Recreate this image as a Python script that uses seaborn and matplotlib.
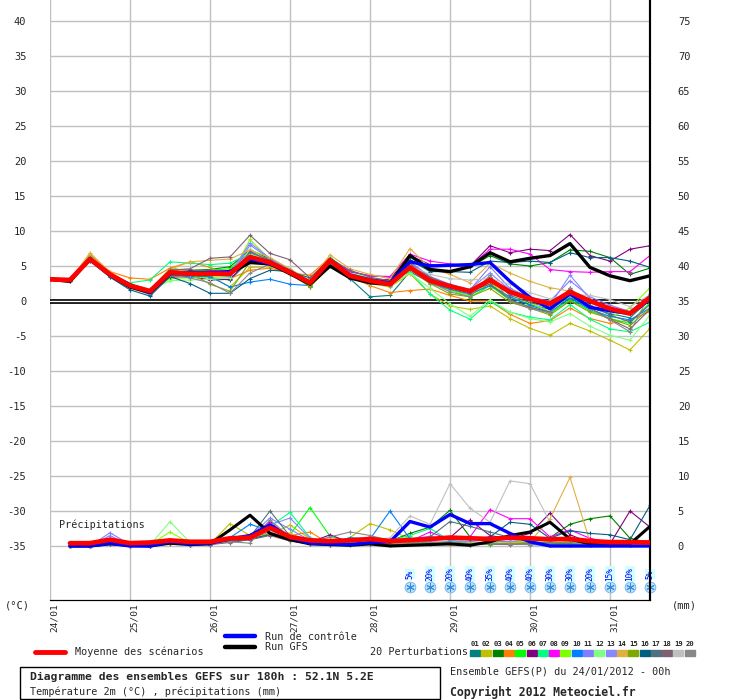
import matplotlib
matplotlib.use("Agg")
import matplotlib.pyplot as plt
import pandas as pd
import seaborn as sns
from matplotlib.patches import Rectangle

# forecast steps (hours from 24/01 00h), precip starts at +6h
hours = list(range(0, 181, 6))
precip_hours = hours[1:]
day_ticks = [0, 24, 48, 72, 96, 120, 144, 168]
day_labels = ["24/01", "25/01", "26/01", "27/01", "28/01", "29/01", "30/01", "31/01"]

member_names = ["01", "02", "03", "04", "05", "06", "07", "08", "09", "10",
                "11", "12", "13", "14", "15", "16", "17", "18", "19", "20"]
member_colors = ["#008080", "#c0c000", "#008000", "#ff8000", "#00ff00", "#800080",
                 "#00ff80", "#ff00ff", "#80ff00", "#0080ff", "#8080ff", "#80ff80",
                 "#8888ff", "#e0b040", "#80a800", "#006080", "#507080", "#806070",
                 "#c0c0c0", "#888888"]

# 2m temperature (°C)
mean_temp = [3.1, 3.0, 6.0, 3.8, 2.2, 1.4, 4.1, 3.9, 3.9, 3.9, 6.3, 5.5, 4.1, 2.6, 5.8, 3.6,
             2.9, 2.4, 4.8, 2.9, 2.1, 1.4, 3.0, 1.3, 0.3, -0.4, 1.3, 0.0, -1.1, -1.8, 0.5]
gfs_temp = [3.1, 2.8, 6.0, 3.7, 2.0, 1.2, 3.9, 3.9, 3.8, 4.0, 5.5, 5.3, 3.9, 2.4, 5.0, 3.3,
            2.6, 2.4, 6.5, 4.5, 4.2, 4.9, 6.9, 5.6, 6.1, 6.5, 8.2, 4.8, 3.6, 2.9, 3.6]
control_temp = [3.1, 3.0, 6.0, 3.8, 2.3, 1.3, 4.0, 4.1, 4.1, 4.2, 6.0, 5.3, 4.2, 2.6, 5.9, 3.7,
                3.0, 2.6, 5.6, 5.0, 5.1, 5.2, 5.5, 2.8, 0.5, -1.1, 1.0, -0.9, -1.4, -1.8, 0.2]
temp_01 = [3.1, 2.9, 5.9, 3.6, 2.0, 1.0, 3.8, 3.5, 3.3, 3.0, 5.8, 5.2, 3.8, 2.3, 5.9, 3.2,
           0.6, 0.8, 4.2, 2.6, 1.6, 0.8, 2.5, 0.4, -0.5, -1.2, 0.5, -1.0, -1.8, -2.4, 0.2]
temp_02 = [3.1, 2.9, 6.2, 3.7, 2.0, 1.2, 3.5, 3.8, 3.6, 2.0, 4.8, 4.9, 4.3, 2.4, 5.2, 3.4,
           2.5, 2.0, 3.9, 1.0, -0.7, -1.2, -0.7, -2.5, -3.9, -4.9, -3.2, -4.3, -5.6, -7.0, -3.9]
temp_03 = [3.1, 3.0, 6.3, 4.0, 2.4, 1.6, 4.6, 4.4, 4.5, 4.9, 7.3, 6.0, 4.4, 2.0, 6.2, 4.2,
           3.6, 3.4, 5.8, 4.4, 4.3, 4.8, 6.5, 5.3, 5.0, 5.5, 7.3, 7.1, 6.2, 3.8, 4.7]
temp_04 = [3.1, 3.0, 6.6, 4.2, 3.3, 3.1, 4.7, 5.6, 4.8, 3.2, 4.4, 4.7, 4.0, 3.7, 6.2, 3.5,
           2.2, 1.2, 1.5, 1.7, 0.8, 0.0, 0.0, -1.9, -3.2, -2.8, -1.0, -2.5, -3.2, -2.7, -1.5]
temp_05 = [3.1, 3.0, 6.1, 3.9, 2.3, 1.5, 4.3, 4.2, 4.4, 4.6, 7.0, 5.7, 4.3, 2.2, 6.1, 3.9,
           3.3, 2.8, 5.2, 3.0, 1.6, 0.5, 2.2, 0.1, -0.8, -1.8, 0.2, -1.4, -2.5, -3.2, -0.2]
temp_06 = [3.1, 3.0, 5.8, 3.6, 2.1, 1.3, 3.4, 3.5, 3.0, 3.1, 6.1, 5.4, 4.0, 2.8, 5.6, 3.7,
           3.0, 3.1, 6.5, 5.2, 5.0, 5.0, 7.9, 6.9, 7.4, 7.2, 9.5, 6.5, 5.7, 7.4, 7.9]
temp_07 = [3.1, 3.0, 6.4, 3.8, 2.6, 3.0, 5.6, 5.4, 5.2, 5.4, 6.8, 5.9, 4.5, 2.9, 6.1, 4.0,
           3.2, 2.8, 4.2, 1.0, -1.3, -2.6, -0.1, -1.6, -2.3, -2.7, -0.5, -2.6, -4.0, -4.4, -3.0]
temp_08 = [3.1, 3.1, 6.1, 4.0, 2.3, 1.5, 4.2, 4.0, 4.3, 4.2, 7.1, 5.8, 4.3, 2.8, 5.9, 4.2,
           3.6, 3.5, 6.7, 5.7, 5.3, 5.0, 7.4, 7.4, 6.7, 4.5, 4.2, 4.1, 4.2, 4.2, 6.5]
temp_09 = [3.1, 3.0, 6.0, 3.9, 2.1, 1.3, 3.2, 3.3, 3.4, 3.4, 8.8, 5.9, 4.0, 2.1, 5.5, 3.6,
           3.0, 2.4, 4.6, 3.1, 1.5, 0.8, 2.6, 0.5, -0.3, -1.5, 0.8, -1.2, -2.3, -1.0, 1.9]
temp_10 = [3.1, 3.0, 5.8, 3.6, 2.0, 1.1, 3.7, 3.5, 3.5, 2.0, 2.7, 3.1, 2.4, 2.2, 5.4, 3.3,
           2.7, 2.3, 4.7, 2.5, 1.7, 1.0, 2.2, 0.6, -0.6, -1.6, 0.4, -1.2, -2.2, -2.7, -1.0]
temp_11 = [3.1, 3.0, 5.7, 3.5, 2.0, 0.9, 3.6, 3.8, 3.7, 3.5, 8.0, 6.0, 4.5, 2.3, 5.7, 3.8,
           3.2, 2.7, 5.6, 3.5, 2.4, 1.6, 4.9, 1.8, 0.5, 0.0, 2.9, 0.6, -0.6, -1.5, 0.9]
temp_12 = [3.1, 3.0, 6.0, 3.8, 2.2, 1.5, 2.9, 3.0, 3.1, 3.3, 7.4, 5.6, 4.6, 2.3, 5.4, 3.4,
           2.4, 2.2, 4.0, 1.8, -0.4, -2.2, 0.2, -1.6, -2.5, -3.0, -1.8, -3.6, -4.9, -5.6, -2.0]
temp_13 = [3.1, 3.0, 5.9, 3.7, 2.1, 1.2, 4.0, 3.7, 3.8, 3.9, 8.3, 6.1, 4.4, 2.7, 5.8, 3.7,
           3.1, 2.6, 5.4, 3.3, 2.2, 1.7, 4.0, 1.6, 0.2, -0.6, 3.7, 0.3, -1.0, -1.8, 0.8]
temp_14 = [3.1, 3.0, 6.9, 4.1, 2.4, 1.7, 4.5, 5.6, 5.8, 6.0, 7.3, 6.2, 4.6, 2.9, 6.6, 4.6,
           3.8, 3.2, 7.5, 4.7, 3.8, 2.6, 5.4, 4.0, 2.8, 1.9, 1.4, 0.2, -1.0, -1.6, 0.3]
temp_15 = [3.1, 3.0, 6.2, 3.9, 2.2, 1.4, 4.4, 4.0, 2.4, 1.4, 5.6, 5.1, 3.9, 2.0, 5.0, 3.6,
           2.8, 2.5, 4.5, 2.5, 1.0, 0.6, 1.8, -0.2, -1.0, -2.0, 0.0, -1.6, -2.5, -3.5, -1.0]
temp_16 = [3.1, 2.9, 5.7, 3.4, 1.6, 0.7, 3.5, 2.5, 1.1, 1.1, 3.2, 4.4, 4.2, 3.3, 6.0, 3.5,
           2.9, 2.8, 5.9, 4.2, 4.2, 4.1, 5.7, 5.5, 5.7, 5.5, 6.9, 6.2, 6.2, 5.7, 4.8]
temp_17 = [3.1, 3.0, 6.1, 3.8, 2.2, 1.3, 3.9, 3.8, 3.6, 3.7, 7.0, 5.8, 4.4, 2.6, 5.5, 3.4,
           2.7, 2.3, 4.9, 3.2, 2.0, 1.2, 3.4, 0.8, -0.2, -1.0, 1.6, -0.6, -2.0, -3.0, -0.5]
temp_18 = [3.1, 3.0, 6.1, 3.9, 2.3, 1.4, 4.4, 4.6, 6.1, 6.3, 9.4, 6.8, 5.9, 3.3, 6.0, 4.4,
           3.4, 2.9, 5.3, 3.4, 2.3, 1.5, 2.4, 0.2, -0.9, -1.6, 1.8, -1.0, -2.6, -4.0, -1.2]
temp_19 = [3.1, 3.0, 6.0, 3.7, 2.1, 1.3, 4.0, 3.8, 3.9, 4.1, 6.5, 5.4, 4.0, 2.7, 5.9, 3.9,
           3.0, 2.5, 5.0, 3.8, 3.2, 3.0, 3.2, 2.4, 1.2, 0.3, 0.9, 0.8, 0.2, -0.8, 0.9]
temp_20 = [3.1, 3.0, 6.1, 3.8, 2.2, 1.4, 3.7, 3.3, 2.6, 1.1, 4.0, 5.3, 4.4, 2.8, 5.6, 3.7,
           2.6, 2.2, 4.6, 2.7, 1.3, 0.6, 3.7, 0.0, -1.1, -1.7, 1.9, -1.1, -2.7, -4.4, 1.0]

# 6-hourly precipitation (mm)
mean_precip = [0.4, 0.4, 0.9, 0.4, 0.5, 0.8, 0.6, 0.6, 1.1, 1.2, 2.6, 1.3, 0.8, 0.7, 0.8,
               1.0, 0.7, 0.85, 1.0, 1.2, 1.1, 1.0, 1.2, 1.1, 0.95, 1.0, 0.7, 0.55, 0.55, 0.5]
gfs_precip = [0.0, 0.0, 0.3, 0.1, 0.0, 0.4, 0.2, 0.3, 2.3, 4.4, 1.8, 0.9, 0.3, 0.2, 0.1,
              0.3, 0.0, 0.1, 0.2, 0.3, 0.1, 0.6, 1.5, 2.0, 3.4, 1.0, 0.3, 0.1, 0.3, 2.8]
control_precip = [0.0, 0.0, 0.4, 0.0, 0.0, 0.6, 0.3, 0.4, 1.0, 1.5, 3.0, 1.2, 0.4, 0.3, 0.2,
                  0.5, 0.6, 3.5, 2.7, 4.5, 3.2, 3.2, 1.8, 0.6, 0.0, 0.0, 0.0, 0.0, 0.0, 0.0]
precip_01 = [0.0, 0.1, 0.5, 0.0, 0.1, 0.6, 0.3, 0.3, 0.6, 0.9, 1.8, 0.8, 0.4, 0.2, 0.5,
             0.6, 0.3, 0.4, 0.5, 0.6, 0.3, 0.6, 0.4, 0.3, 0.2, 0.4, 0.2, 0.1, 0.1, 0.2]
precip_02 = [0.0, 0.0, 0.6, 0.1, 0.0, 0.5, 0.2, 0.3, 3.2, 1.5, 1.6, 3.0, 1.0, 0.4, 1.2,
             3.2, 2.3, 1.0, 0.5, 0.3, 0.4, 0.2, 0.3, 0.2, 0.4, 0.1, 0.2, 0.1, 0.3, 0.2]
precip_03 = [0.0, 0.0, 0.5, 0.1, 0.1, 0.7, 0.4, 0.4, 0.8, 1.4, 2.5, 1.0, 0.6, 0.5, 0.6,
             0.8, 0.7, 1.8, 2.7, 5.1, 1.3, 0.8, 0.6, 0.9, 1.2, 3.1, 3.9, 4.3, 1.1, 0.4]
precip_04 = [0.0, 0.0, 0.4, 0.0, 0.1, 0.5, 0.2, 0.4, 1.0, 1.3, 2.9, 1.5, 2.0, 0.3, 0.4,
             0.5, 0.3, 0.4, 0.6, 0.4, 0.3, 0.5, 0.6, 0.3, 0.4, 0.5, 0.3, 0.2, 0.2, 0.4]
precip_05 = [0.0, 0.0, 0.3, 0.0, 0.1, 0.6, 0.3, 0.3, 0.9, 1.2, 2.3, 1.6, 5.5, 1.4, 0.6,
             0.4, 0.5, 0.6, 0.3, 0.5, 0.3, 0.2, 0.4, 0.3, 0.5, 0.2, 0.1, 0.1, 0.2, 0.3]
precip_06 = [0.0, 0.1, 0.4, 0.1, 0.0, 0.5, 0.2, 0.2, 0.7, 1.2, 3.5, 1.0, 0.5, 1.6, 0.5,
             0.3, 0.4, 0.6, 1.0, 1.2, 3.7, 1.5, 1.0, 1.8, 4.7, 1.6, 0.5, 0.3, 5.0, 2.7]
precip_07 = [0.0, 0.0, 0.5, 0.1, 0.1, 0.6, 0.3, 0.4, 0.9, 1.6, 2.8, 4.8, 1.2, 0.4, 0.3,
             0.6, 0.8, 1.5, 2.5, 0.8, 0.4, 0.3, 0.5, 0.3, 0.6, 0.3, 0.2, 0.2, 0.1, 0.2]
precip_08 = [0.0, 0.0, 0.4, 0.0, 0.1, 0.5, 0.2, 0.3, 0.8, 1.1, 3.3, 1.2, 0.5, 0.3, 0.4,
             0.5, 0.4, 0.7, 2.0, 0.9, 1.3, 5.2, 3.9, 3.9, 1.3, 2.3, 1.1, 0.5, 0.3, 0.2]
precip_09 = [0.0, 0.0, 0.6, 0.1, 0.2, 2.0, 0.4, 0.3, 1.0, 1.3, 2.6, 1.4, 0.6, 0.4, 0.3,
             0.5, 0.4, 0.6, 0.5, 0.3, 0.5, 0.4, 0.3, 1.3, 0.4, 0.3, 0.2, 0.1, 0.2, 0.3]
precip_10 = [0.0, 0.0, 0.5, 0.1, 0.0, 0.4, 0.3, 0.5, 1.2, 3.1, 2.2, 1.3, 0.6, 0.3, 1.2,
             1.0, 5.0, 1.0, 0.5, 0.3, 0.2, 0.4, 0.3, 0.2, 0.1, 0.3, 0.2, 0.1, 0.1, 0.2]
precip_11 = [0.0, 0.0, 1.9, 0.2, 0.1, 0.6, 0.3, 0.4, 0.9, 1.4, 4.0, 2.4, 0.8, 0.3, 0.4,
             0.5, 0.6, 1.0, 1.4, 0.8, 0.5, 0.4, 0.7, 0.5, 0.3, 0.6, 0.3, 0.2, 0.2, 0.3]
precip_12 = [0.0, 0.0, 0.7, 0.1, 0.1, 3.5, 0.5, 0.3, 0.8, 1.2, 2.2, 1.8, 0.7, 0.4, 0.3,
             0.6, 0.5, 0.6, 0.9, 1.1, 0.5, 0.6, 0.4, 0.7, 0.5, 0.3, 0.3, 0.2, 0.1, 0.3]
precip_13 = [0.0, 0.0, 1.5, 0.1, 0.1, 0.7, 0.4, 0.3, 0.9, 1.5, 3.0, 4.0, 1.1, 0.5, 0.4,
             0.5, 0.3, 0.5, 0.6, 0.4, 0.7, 0.3, 0.4, 0.2, 0.5, 0.3, 0.2, 0.1, 0.2, 0.2]
precip_14 = [0.0, 0.0, 0.4, 0.0, 0.1, 0.5, 0.3, 0.4, 1.1, 1.6, 2.4, 1.8, 0.5, 0.3, 0.4,
             0.6, 0.4, 0.5, 0.3, 0.2, 0.4, 0.3, 0.5, 0.6, 3.9, 9.8, 0.6, 0.3, 0.2, 0.3]
precip_15 = [0.0, 0.0, 0.5, 0.1, 0.1, 0.4, 0.2, 0.3, 0.8, 1.1, 2.0, 1.2, 0.6, 0.4, 0.5,
             0.7, 0.4, 0.6, 0.4, 0.5, 0.3, 0.4, 0.3, 0.5, 0.4, 0.6, 0.5, 0.2, 0.1, 0.4]
precip_16 = [0.0, 0.0, 0.3, 0.0, 0.0, 0.4, 0.2, 0.3, 0.6, 1.0, 1.6, 0.9, 0.3, 0.2, 0.3,
             0.5, 0.6, 0.8, 0.9, 1.2, 1.0, 1.3, 3.4, 3.1, 1.1, 2.2, 1.8, 1.6, 0.9, 5.8]
precip_17 = [0.0, 0.0, 0.4, 0.1, 0.0, 0.5, 0.2, 0.3, 0.7, 1.3, 5.0, 1.4, 0.6, 0.4, 0.3,
             0.4, 0.5, 0.7, 1.3, 3.5, 2.8, 2.0, 1.2, 0.6, 0.4, 0.3, 0.2, 0.2, 0.1, 0.2]
precip_18 = [0.0, 0.0, 0.3, 0.0, 0.0, 0.3, 0.2, 0.2, 0.5, 0.9, 1.5, 0.7, 0.3, 0.2, 0.2,
             0.3, 0.2, 0.3, 0.3, 0.4, 0.2, 0.3, 0.2, 0.3, 0.2, 0.2, 0.1, 0.1, 0.1, 0.1]
precip_19 = [0.0, 0.0, 0.5, 0.1, 0.1, 0.8, 0.3, 0.4, 0.9, 1.3, 2.1, 1.2, 0.5, 0.6, 0.4,
             0.7, 1.2, 4.3, 3.1, 8.9, 5.4, 3.4, 9.3, 8.9, 3.4, 1.2, 0.4, 0.3, 0.2, 0.3]
precip_20 = [0.0, 0.0, 0.4, 0.0, 0.1, 0.6, 0.3, 0.3, 0.6, 0.4, 3.7, 1.3, 0.5, 1.3, 2.0,
             1.5, 0.8, 0.6, 0.4, 0.5, 0.3, 0.4, 0.3, 0.2, 0.3, 0.2, 0.2, 0.1, 0.1, 0.2]

# probability of snow (%) from 28/01 12h to the end
snow_hours = [108, 114, 120, 126, 132, 138, 144, 150, 156, 162, 168, 174, 180]
snow_pct = [5, 20, 20, 40, 35, 40, 40, 30, 30, 20, 15, 10, 5]

member_temps = [temp_01, temp_02, temp_03, temp_04, temp_05, temp_06, temp_07, temp_08,
                temp_09, temp_10, temp_11, temp_12, temp_13, temp_14, temp_15, temp_16,
                temp_17, temp_18, temp_19, temp_20]
member_precips = [precip_01, precip_02, precip_03, precip_04, precip_05, precip_06,
                  precip_07, precip_08, precip_09, precip_10, precip_11, precip_12,
                  precip_13, precip_14, precip_15, precip_16, precip_17, precip_18,
                  precip_19, precip_20]

temp_df = pd.concat([pd.DataFrame({"hour": hours, "value": v, "member": m})
                     for m, v in zip(member_names, member_temps)], ignore_index=True)
precip_df = pd.concat([pd.DataFrame({"hour": precip_hours, "value": v, "member": m})
                       for m, v in zip(member_names, member_precips)], ignore_index=True)

sns.set_style("white")
plt.rcParams["font.family"] = ["DejaVu Sans Mono", "DejaVu Sans"]
plt.rcParams["axes.unicode_minus"] = False

W, H = 740, 700
fig = plt.figure(figsize=(W / 100, H / 100), dpi=100)
ax = fig.add_axes([50 / W, 1 - 600 / H, 600 / W, 600 / H])
ax2 = ax.twinx()

# axis scales: 7 px per unit, 0°C at y=301 px, precip 0 mm lines up with -35°C
t_top, t_bot = 301 / 7, (301 - 600) / 7
ax.set_xlim(0, 180)
ax.set_ylim(t_bot, t_top)
ax2.set_ylim(t_bot + 35, t_top + 35)

ax.set_yticks(range(-35, 41, 5))
ax2.set_yticks(range(0, 76, 5))
ax.set_xticks(day_ticks)
ax.set_xticklabels(day_labels, rotation=90, ha="left", va="top", fontsize=6.8)
ax.tick_params(axis="x", length=0, pad=2)
ax.tick_params(axis="y", length=0, pad=17, labelsize=7.5)
ax2.tick_params(axis="y", length=0, pad=20, labelsize=7.5)
ax.grid(True, color="#c0c0c0", lw=1.0)
ax.set_axisbelow(True)
for a in (ax, ax2):
    a.spines["top"].set_visible(False)
    a.spines["left"].set_visible(False)
    a.spines["bottom"].set_color("black")
    a.spines["right"].set_color("black")
    a.spines["right"].set_linewidth(1.5)

# double black line at 0°C
ax.axhline(0, color="black", lw=3.4, zorder=1.2)
ax.axhline(0, color="white", lw=1.0, zorder=1.3)

line_kws = dict(lw=0.8, marker="+", ms=3.5, mew=0.8, legend=False,
                estimator=None, sort=False, errorbar=None)
sns.lineplot(data=temp_df, x="hour", y="value", hue="member", hue_order=member_names,
             palette=member_colors, ax=ax, **line_kws)
sns.lineplot(data=precip_df, x="hour", y="value", hue="member", hue_order=member_names,
             palette=member_colors, ax=ax2, **line_kws)
for a in (ax, ax2):
    for ln in a.lines:
        ln.set_markeredgecolor(ln.get_color())

sns.lineplot(x=hours, y=gfs_temp, color="black", lw=2.4, ax=ax, zorder=3)
sns.lineplot(x=hours, y=control_temp, color="#0000ff", lw=2.4, ax=ax, zorder=3)
sns.lineplot(x=hours, y=mean_temp, color="#ff0000", lw=3.4, ax=ax, zorder=4)
sns.lineplot(x=precip_hours, y=gfs_precip, color="black", lw=2.2, ax=ax2, zorder=3)
sns.lineplot(x=precip_hours, y=control_precip, color="#0000ff", lw=2.4, ax=ax2, zorder=3)
sns.lineplot(x=precip_hours, y=mean_precip, color="#ff0000", lw=3.4, ax=ax2, zorder=4)
for a in (ax, ax2):
    a.set_xlabel("")
    a.set_ylabel("")

ax.text(2.7, -31.9, "Précipitations", fontsize=7.3, va="center", ha="left")

# snow probability icons
ax.scatter(snow_hours, [-40.9] * len(snow_hours), s=60, color="#b8e4ff",
           edgecolor="#6ab0f0", lw=0.6, zorder=5, clip_on=False)
ax.scatter(snow_hours, [-40.9] * len(snow_hours), s=30, marker=(6, 2, 0),
           color="#3a8ad8", lw=0.7, zorder=6, clip_on=False)
for h, p in zip(snow_hours, snow_pct):
    ax.text(h, -39.0, f"{p}%", rotation=90, ha="center", va="center", fontsize=5.6,
            color="#0000ff", zorder=6, clip_on=False,
            bbox=dict(boxstyle="square,pad=0.1", fc="#d0ffff", ec="none"))

# legend / caption area in pixel coordinates
ov = fig.add_axes([0, 0, 1, 1])
ov.set_xlim(0, W)
ov.set_ylim(H, 0)
ov.axis("off")
ov.patch.set_alpha(0)

ov.text(5, 606, "(°C)", fontsize=7.5, va="center", ha="left")
ov.text(672, 606, "(mm)", fontsize=7.5, va="center", ha="left")

ov.plot([35, 65], [652, 652], color="#ff0000", lw=3.5)
ov.text(75, 652, "Moyenne des scénarios", fontsize=7.3, va="center")
ov.plot([225, 255], [636, 636], color="#0000ff", lw=3.2)
ov.text(265, 637, "Run de contrôle", fontsize=7.3, va="center")
ov.plot([225, 255], [647, 647], color="black", lw=3.2)
ov.text(265, 647, "Run GFS", fontsize=7.3, va="center")
ov.text(370, 652, "20 Perturbations", fontsize=7.3, va="center")
for k, (m, c) in enumerate(zip(member_names, member_colors)):
    x0 = 470 + k * 11.3
    ov.add_patch(Rectangle((x0, 650), 10, 6, color=c))
    ov.text(x0 + 5, 644, m, fontsize=5.2, ha="center", va="center", weight="bold")

ov.add_patch(Rectangle((20, 667), 420, 32, fill=False, ec="black", lw=1))
ov.text(30, 677, "Diagramme des ensembles GEFS sur 180h : 52.1N 5.2E",
        fontsize=8.2, weight="bold", va="center")
ov.text(30, 692, "Température 2m (°C) , précipitations (mm)", fontsize=7.3, va="center")
ov.text(450, 672, "Ensemble GEFS(P) du 24/01/2012 - 00h", fontsize=7.3, va="center")
ov.text(450, 692, "Copyright 2012 Meteociel.fr", fontsize=8.3, weight="bold", va="center")

fig.savefig("out.png", dpi=100)
